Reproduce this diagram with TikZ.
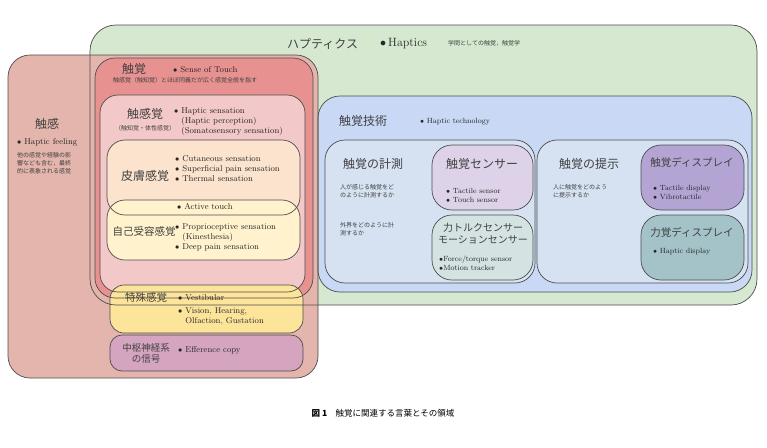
\documentclass[tikz,border=0pt]{standalone}
\usepackage{fontspec}
\newfontfamily\jp{Noto Sans CJK JP}
\begin{document}
\begin{tikzpicture}[x=1pt,y=-1pt,
 bx/.style={draw=black!70,line width=0.7pt},
 big/.style={font=\jp\fontsize{12}{14}\selectfont,text=black!75,inner sep=0pt},
 en/.style={font=\fontsize{8.5}{10}\selectfont,inner sep=0pt,align=left,anchor=west,text=black!85},
 sm/.style={font=\jp\fontsize{6}{8}\selectfont,inner sep=0pt,align=left,text=black!75}]
\useasboundingbox (0,0) rectangle (767,447);
\def\bxs#1#2#3#4#5#6{\path[fill=#6,rounded corners=#5] (#1,#2) rectangle (#3,#4);}
% fills
\bxs{90}{25}{757}{305}{26}{green!40!black!10!white}
\path[fill={rgb,255:red,214;green,232;blue,208}, rounded corners=26] (90,25) rectangle (757,305);
\path[fill={rgb,255:red,228;green,181;blue,172}, rounded corners=22] (8,55) rectangle (318,378);
\path[fill={rgb,255:red,231;green,145;blue,144}, rounded corners=20] (95,58) rectangle (313,298);
\path[fill={rgb,255:red,243;green,200;blue,200}, rounded corners=18] (100,95) rectangle (305,292);
\path[fill={rgb,255:red,251;green,227;blue,205}, rounded corners=18] (107,140) rectangle (300,215);
\path[fill={rgb,255:red,255;green,242;blue,205}, rounded corners=18] (107,200) rectangle (300,260);
\path[fill={rgb,255:red,253;green,228;blue,155}, rounded corners=14] (110,285) rectangle (303,333);
\path[fill={rgb,255:red,213;green,165;blue,192}, rounded corners=12] (110,335) rectangle (303,371);
\path[fill={rgb,255:red,200;green,216;blue,245}, rounded corners=22] (318,96) rectangle (752,292);
\path[fill={rgb,255:red,214;green,226;blue,242}, rounded corners=20] (325,140) rectangle (535,283);
\path[fill={rgb,255:red,214;green,226;blue,242}, rounded corners=20] (537,140) rectangle (748,283);
\path[fill={rgb,255:red,222;green,210;blue,232}, rounded corners=20] (432,145) rectangle (533,210);
\path[fill={rgb,255:red,212;green,226;blue,226}, rounded corners=20] (432,215) rectangle (533,280);
\path[fill={rgb,255:red,180;green,164;blue,212}, rounded corners=20] (641,145) rectangle (744,210);
\path[fill={rgb,255:red,164;green,195;blue,200}, rounded corners=20] (641,215) rectangle (744,280);
% borders
\draw[bx,rounded corners=26] (90,25) rectangle (757,305);
\draw[bx,rounded corners=22] (8,55) rectangle (318,378);
\draw[bx,rounded corners=20] (95,58) rectangle (313,298);
\draw[bx,rounded corners=18] (100,95) rectangle (305,292);
\draw[bx,rounded corners=18] (107,140) rectangle (300,215);
\draw[bx,rounded corners=18] (107,200) rectangle (300,260);
\draw[bx,rounded corners=14] (110,285) rectangle (303,333);
\draw[bx,rounded corners=12] (110,335) rectangle (303,371);
\draw[bx,rounded corners=22] (318,96) rectangle (752,292);
\draw[bx,rounded corners=20] (325,140) rectangle (535,283);
\draw[bx,rounded corners=20] (537,140) rectangle (748,283);
\draw[bx,rounded corners=20] (432,145) rectangle (533,210);
\draw[bx,rounded corners=20] (432,215) rectangle (533,280);
\draw[bx,rounded corners=20] (641,145) rectangle (744,210);
\draw[bx,rounded corners=20] (641,215) rectangle (744,280);
% texts
\node[big,anchor=west] (hap) at (287,44) {ハプティクス};
\node[en,font=\fontsize{12}{14}\selectfont] (hapE) at (380,44) {$\bullet$\,Haptics};
\node[sm,anchor=west] (hapJ) at (448,43) {学問としての触覚，触覚学};
\node[big] (shokan) at (47,124) {触感};
\node[en] (shokanE) at (17,142) {$\bullet$ Haptic feeling};
\node[sm,align=left,anchor=north west] (shokanJ) at (17,152) {他の感覚や経験の影\\響なども含む，最終\\的に表象される感覚};
\node[big] (shokaku) at (134,69) {触覚};
\node[en] (shokakuE) at (173,70) {$\bullet$ Sense of Touch};
\node[sm,anchor=west] (shokakuJ) at (113,80) {触感覚（触知覚）とほぼ同義だが広く感覚全般を指す};
\node[big] (skk) at (145,114) {触感覚};
\node[sm] (skkJ) at (145,128) {（触知覚・体性感覚）};
\node[en] (skkE) at (174,122) {$\bullet$ Haptic sensation\\\phantom{$\bullet$} (Haptic perception)\\\phantom{$\bullet$} (Somatosensory sensation)};
\node[big] (hifu) at (145,176) {皮膚感覚};
\node[en] (hifuE) at (175,169) {$\bullet$ Cutaneous sensation\\$\bullet$ Superficial pain sensation\\$\bullet$ Thermal sensation};
\node[en] (act) at (177,207) {$\bullet$ Active touch};
\node[big,font=\jp\fontsize{10.5}{12}\selectfont] (jiko) at (144,231) {自己受容感覚};
\node[en] (jikoE) at (175,237) {$\bullet$ Proprioceptive sensation\\\phantom{$\bullet$} (Kinesthesia)\\$\bullet$ Deep pain sensation};
\node[big,font=\jp\fontsize{10.5}{12}\selectfont] (toku) at (146,297) {特殊感覚};
\node[en] (tokuE) at (178,298) {$\bullet$ Vestibular};
\node[en] (tokuE2) at (178,316) {$\bullet$ Vision, Hearing,\\\phantom{$\bullet$} Olfaction, Gustation};
\node[big,font=\jp\fontsize{9.5}{11}\selectfont,align=center] (chu) at (146,353) {中枢神経系\\の信号};
\node[en] (chuE) at (178,350) {$\bullet$ Efference copy};
\node[big] (gijutsu) at (363,121) {触覚技術};
\node[en,font=\fontsize{7.5}{9}\selectfont] (gijutsuE) at (420,122) {$\bullet$ Haptic technology};
\node[big] (keisoku) at (373,164) {触覚の計測};
\node[sm,anchor=north west] (k1) at (340,184) {人が感じる触覚をど\\のように計測するか};
\node[sm,anchor=north west] (k2) at (340,222) {外界をどのように計\\測するか};
\node[big] (sensor) at (482,164) {触覚センサー};
\node[en,font=\fontsize{7.5}{9}\selectfont] (sensorE) at (446,195) {$\bullet$ Tactile sensor\\$\bullet$ Touch sensor};
\node[big,font=\jp\fontsize{10}{12}\selectfont,align=center] (force) at (483,234) {力トルクセンサー\\モーションセンサー};
\node[en,font=\fontsize{7.5}{9}\selectfont] (forceE) at (439,263) {$\bullet$Force/torque sensor\\$\bullet$Motion tracker};
\node[big] (teiji) at (589,164) {触覚の提示};
\node[sm,anchor=north west] (t1) at (553,184) {人に触覚をどのよう\\に提示するか};
\node[big,font=\jp\fontsize{10.5}{12}\selectfont] (tdisp) at (692,162) {触覚ディスプレイ};
\node[en,font=\fontsize{7.5}{9}\selectfont] (tdispE) at (653,192) {$\bullet$ Tactile display\\$\bullet$ Vibrotactile};
\node[big,font=\jp\fontsize{10.5}{12}\selectfont] (fdisp) at (692,232) {力覚ディスプレイ};
\node[en,font=\fontsize{7.5}{9}\selectfont] (fdispE) at (653,252) {$\bullet$ Haptic display};
\node[font=\jp\fontsize{8.5}{10}\selectfont,inner sep=0pt] (cap) at (383,413) {\textbf{図 1}\quad 触覚に関連する言葉とその領域};
\end{tikzpicture}
\end{document}
